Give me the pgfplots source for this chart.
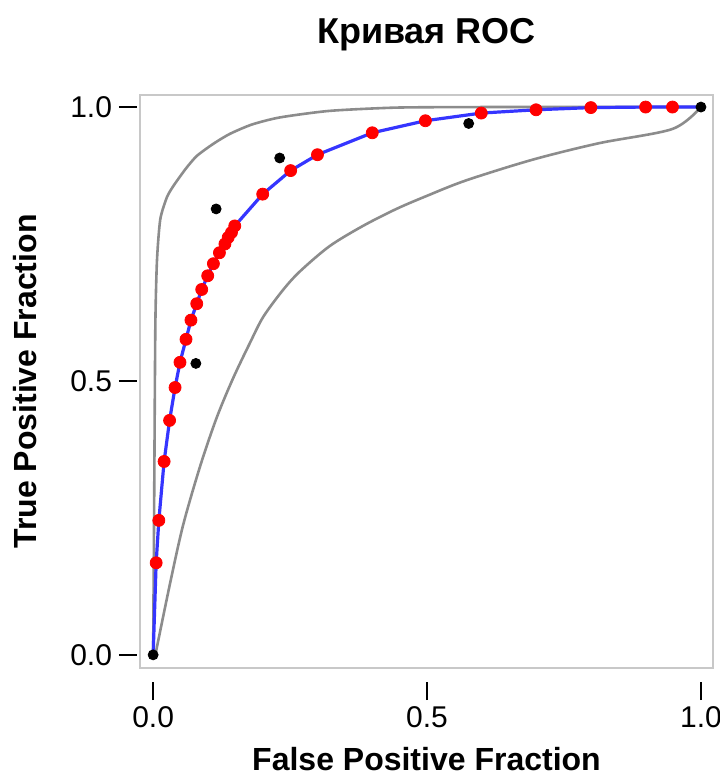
\documentclass[border=0pt]{standalone}
\usepackage{fontspec}
\setmainfont{Liberation Sans}
\usepackage{pgfplots}
\pgfplotsset{compat=1.18}
\definecolor{boxgray}{HTML}{C8C8C8}
\definecolor{curvegray}{HTML}{8C8C8C}
\definecolor{rocblue}{HTML}{3535FF}
\begin{document}
\begin{tikzpicture}
\begin{axis}[
  scale only axis, width=286.5bp, height=286.5bp,
  xmin=-0.024, xmax=1.022, ymin=-0.024, ymax=1.022,
  axis lines*=left,
  axis x line shift=7bp, axis y line shift=1.5bp,
  axis line style={draw=none},
  tick align=outside, major tick length=9bp,
  tick style={black, line width=0.8bp},
  xtick={0,0.5,1}, ytick={0,0.5,1},
  xticklabels={0.0,0.5,1.0}, yticklabels={0.0,0.5,1.0},
  ticklabel style={font=\fontsize{15bp}{18bp}\selectfont},
  clip=false,
  title={Кривая ROC},
  title style={at={([yshift=20bp]axis description cs:0.5,1)}, anchor=base, font=\bfseries\fontsize{18bp}{22bp}\selectfont},
  xlabel={False Positive Fraction},
  ylabel={True Positive Fraction},
  xlabel style={at={([yshift=-51bp]axis description cs:0.5,0)}, anchor=base, font=\bfseries\fontsize{16bp}{19bp}\selectfont},
  ylabel style={at={([xshift=-51.5bp]axis description cs:0,0.5)}, rotate=0, anchor=base, font=\bfseries\fontsize{16bp}{19bp}\selectfont},
]
\draw[boxgray, line width=1.2bp] (rel axis cs:0,0) rectangle (rel axis cs:1,1);
% upper confidence curve
\addplot[curvegray, line width=1.3bp, smooth, tension=0.4] coordinates {
(0,0) (0.002,0.3) (0.004,0.6) (0.007,0.72) (0.013,0.795) (0.025,0.835) (0.037,0.856)
(0.06,0.888) (0.08,0.911) (0.11,0.933) (0.14,0.951) (0.18,0.968) (0.231,0.981)
(0.322,0.993) (0.444,0.999) (0.6,1.0) (0.8,1.0) (1,1)};
% lower confidence curve
\addplot[curvegray, line width=1.3bp, smooth, tension=0.5] coordinates {
(0.004,0) (0.031,0.131) (0.055,0.238) (0.086,0.345) (0.116,0.433) (0.146,0.505)
(0.177,0.570) (0.201,0.617) (0.237,0.666) (0.268,0.700) (0.322,0.746) (0.383,0.783)
(0.444,0.814) (0.5,0.838) (0.571,0.866) (0.693,0.904) (0.814,0.934) (0.948,0.960) (1,1)};
% fitted ROC curve
\addplot[rocblue, line width=1.6bp] coordinates {
(0,0) (0.0055,0.168) (0.0104,0.2455) (0.020,0.353) (0.030,0.428) (0.040,0.488)
(0.049,0.534) (0.060,0.576) (0.069,0.611) (0.0796,0.641) (0.0887,0.667) (0.0996,0.692)
(0.110,0.714) (0.121,0.734) (0.131,0.750) (0.137,0.762) (0.143,0.771) (0.149,0.783)
(0.200,0.841) (0.251,0.884) (0.300,0.913) (0.400,0.953) (0.497,0.975) (0.599,0.989)
(0.699,0.995) (0.799,0.999) (0.899,1.000) (0.948,1.000) (1,1)};
% red points
\addplot[only marks, mark=*, mark size=3bp, mark options={fill=red, draw=red}] coordinates {
(0.0055,0.168) (0.0104,0.2455) (0.020,0.353) (0.030,0.428) (0.040,0.488)
(0.049,0.534) (0.060,0.576) (0.069,0.611) (0.0796,0.641) (0.0887,0.667) (0.0996,0.692)
(0.110,0.714) (0.121,0.734) (0.131,0.750) (0.137,0.762) (0.143,0.771) (0.149,0.783)
(0.200,0.841) (0.251,0.884) (0.300,0.913) (0.400,0.953) (0.497,0.975) (0.599,0.989)
(0.699,0.995) (0.799,0.999) (0.899,1.000) (0.948,1.000)};
% empirical points
\addplot[only marks, mark=*, mark size=2.5bp, mark options={fill=black, draw=black}] coordinates {
(0,0) (0.078,0.532) (0.115,0.814) (0.231,0.907) (0.576,0.970) (1,1)};
\end{axis}
\pgfresetboundingbox
\path[use as bounding box] ([shift={(-70bp,-55bp)}]current axis.south west) rectangle ([shift={(3.5bp,47.5bp)}]current axis.north east);
\end{tikzpicture}
\end{document}
